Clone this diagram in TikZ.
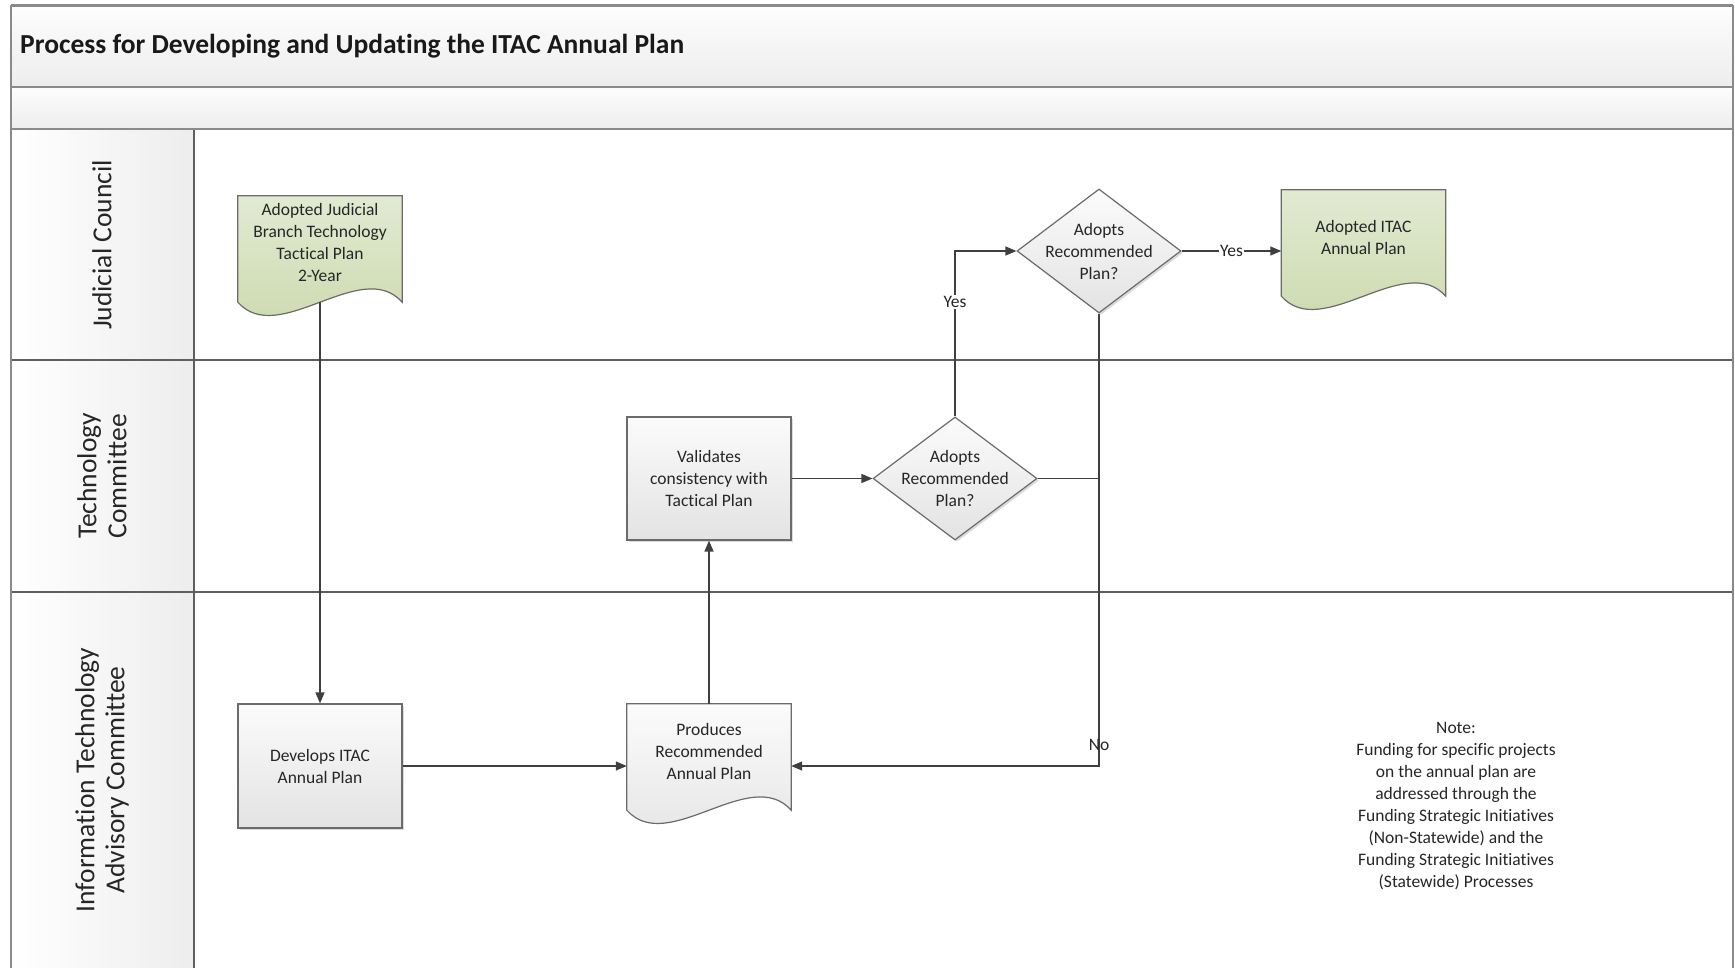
\documentclass[tikz,border=0pt]{standalone}
\usepackage{fontspec}
\setmainfont{Carlito}[RawFeature={-liga}]
\usetikzlibrary{shapes.geometric,arrows.meta,calc,shadows}

\definecolor{framegrey}{HTML}{8A8A8A}
\definecolor{lanegrey}{HTML}{5E5E5E}
\definecolor{edgegrey}{HTML}{6B6B6B}
\definecolor{wiregrey}{HTML}{3F3F3F}
\definecolor{ink}{HTML}{262626}
\definecolor{greenTop}{HTML}{E2EAD2}
\definecolor{greenBot}{HTML}{C9D8AA}
\definecolor{greyTop}{HTML}{FBFBFB}
\definecolor{greyBot}{HTML}{E3E3E3}
\definecolor{bandTop}{HTML}{FDFDFD}
\definecolor{bandBot}{HTML}{EDEDED}

\newcommand\boxfont{\fontsize{17.5pt}{22pt}\selectfont}
\newcommand\lanefont{\fontsize{27.5pt}{30pt}\selectfont}
\newcommand\headfont{\fontsize{27.5pt}{32pt}\selectfont\bfseries}

\tikzset{
  shapeline/.style={draw=edgegrey, line width=1.2pt},
  greyfill/.style={shapeline, top color=greyTop, bottom color=greyBot},
  greenfill/.style={shapeline, top color=greenTop, bottom color=greenBot},
  softshadow/.style={drop shadow={shadow xshift=2pt, shadow yshift=-2pt, fill=black, opacity=0.14}},
  proc/.style={rectangle, greyfill, softshadow, minimum width=164pt, minimum height=124pt,
               inner sep=0pt, align=center, font=\boxfont, text=ink},
  decision/.style={diamond, greyfill, softshadow, minimum width=164pt, minimum height=124pt,
               inner sep=0pt},
  docbox/.style={rectangle, draw=none, minimum width=164pt, minimum height=106pt, inner sep=0pt},
  boxtext/.style={align=center, font=\boxfont, text=ink, inner sep=0pt},
  conn/.style={draw=wiregrey, line width=1.3pt, -{Triangle[length=11pt,width=9pt]}},
  plainconn/.style={draw=wiregrey, line width=1.3pt},
  lbl/.style={fill=white, inner sep=1.2pt, font=\boxfont, text=ink},
  bare/.style={inner sep=0pt, font=\boxfont, text=ink},
  lanetext/.style={rotate=90, align=center, font=\lanefont, text=ink},
  framerule/.style={draw=framegrey, line width=2.4pt},
  lanerule/.style={draw=lanegrey, line width=1.4pt},
}

\begin{document}
\begin{tikzpicture}[x=1pt,y=-1pt]

% ---------- swimlane frame ----------
\fill[white] (0,0) rectangle (1735,968);
\shade[top color=bandTop, bottom color=bandBot] (11,5.5) rectangle (1733,87);
\shade[top color=bandTop, bottom color=bandBot] (11,87) rectangle (1733,129);
\foreach \ya/\yb in {129/360, 360/592, 592/968}
  \shade[left color=white, right color=black!7] (11,\ya) rectangle (194,\yb);

\draw[lanerule] (11,360) -- (1733,360);
\draw[lanerule] (11,592) -- (1733,592);
\draw[lanerule] (194,129) -- (194,968);
\draw[framerule] (11,5.5) -- (1733,5.5);
\draw[framerule] (11,87) -- (1733,87);
\draw[framerule] (11,129) -- (1733,129);
\draw[framerule] (11,5.5) -- (11,968);
\draw[framerule] (1733,5.5) -- (1733,968);

\node[anchor=west, font=\headfont, text=black!90, inner sep=0pt] (title) at (20,46)
  {Process for Developing and Updating the ITAC Annual Plan};

\node[lanetext] (laneJC) at (102,245) {Judicial Council};
\node[lanetext] (laneTC) at (102,476) {Technology\\Committee};
\node[lanetext] (laneIT) at (102,780) {Information Technology\\Advisory Committee};

% ---------- document-shaped steps ----------
\node[docbox] (doc1) at (320,249) {};
\node[docbox] (doc2) at (1363.5,243) {};
\node[docbox] (prod) at (709,757) {};

\foreach \n/\f in {doc1/greenfill, doc2/greenfill, prod/greyfill} {
  \fill[black, opacity=0.14, shift={(2,2)}]
    (\n.north west) -- (\n.north east) -- (\n.south east)
    .. controls ($(\n.south east)+(-41,-46)$) and ($(\n.south west)+(41,46)$) .. (\n.south west) -- cycle;
  \path[\f]
    (\n.north west) -- (\n.north east) -- (\n.south east)
    .. controls ($(\n.south east)+(-41,-46)$) and ($(\n.south west)+(41,46)$) .. (\n.south west) -- cycle;
}

\node[boxtext] (doc1text) at ([yshift=7pt]doc1.center)
  {Adopted Judicial\\Branch Technology\\Tactical Plan\\2-Year};
\node[boxtext] (doc2text) at ([yshift=6pt]doc2.center) {Adopted ITAC\\Annual Plan};
\node[boxtext] (prodtext) at ([yshift=6pt]prod.center) {Produces\\Recommended\\Annual Plan};

% ---------- process boxes and decisions ----------
\node[proc] (dev) at (320,766) {Develops ITAC\\Annual Plan};
\node[proc, minimum height=123pt] (val) at (709,478.5) {Validates\\consistency with\\Tactical Plan};

\node[decision] (d1) at (1099,251) {};
\node[boxtext] (d1text) at (d1.center) {Adopts\\Recommended\\Plan?};
\node[decision, minimum height=123pt] (d2) at (955,478.5) {};
\node[boxtext] (d2text) at (d2.center) {Adopts\\Recommended\\Plan?};

% ---------- note ----------
\node[boxtext] (note) at (1456,806)
  {Note:\\Funding for specific projects\\on the annual plan are\\addressed through the\\Funding Strategic Initiatives\\(Non-Statewide) and the\\Funding Strategic Initiatives\\(Statewide) Processes};

% ---------- connectors ----------
\coordinate (join) at (d1.south |- d2.east);

\draw[conn] (doc1.south) -- (doc1.south |- dev.north);
\draw[conn] (dev.east) -- (dev.east -| prod.west);
\draw[conn] (prod.north) -- (val.south);
\draw[conn] (val.east) -- (d2.west);
\draw[conn] (d2.north) |- node[lbl, pos=0.345] {Yes} (d1.west);
\draw[conn] (d1.east) -- node[lbl] {Yes} (d1.east -| doc2.west);
\draw[plainconn] (d2.east) -- (join);
\draw[conn] (d1.south) |- node[bare, pos=0.477] {No} (prod.east |- dev.east);

\pgfresetboundingbox
\useasboundingbox (0,0) rectangle (1735,968);
\end{tikzpicture}
\end{document}
